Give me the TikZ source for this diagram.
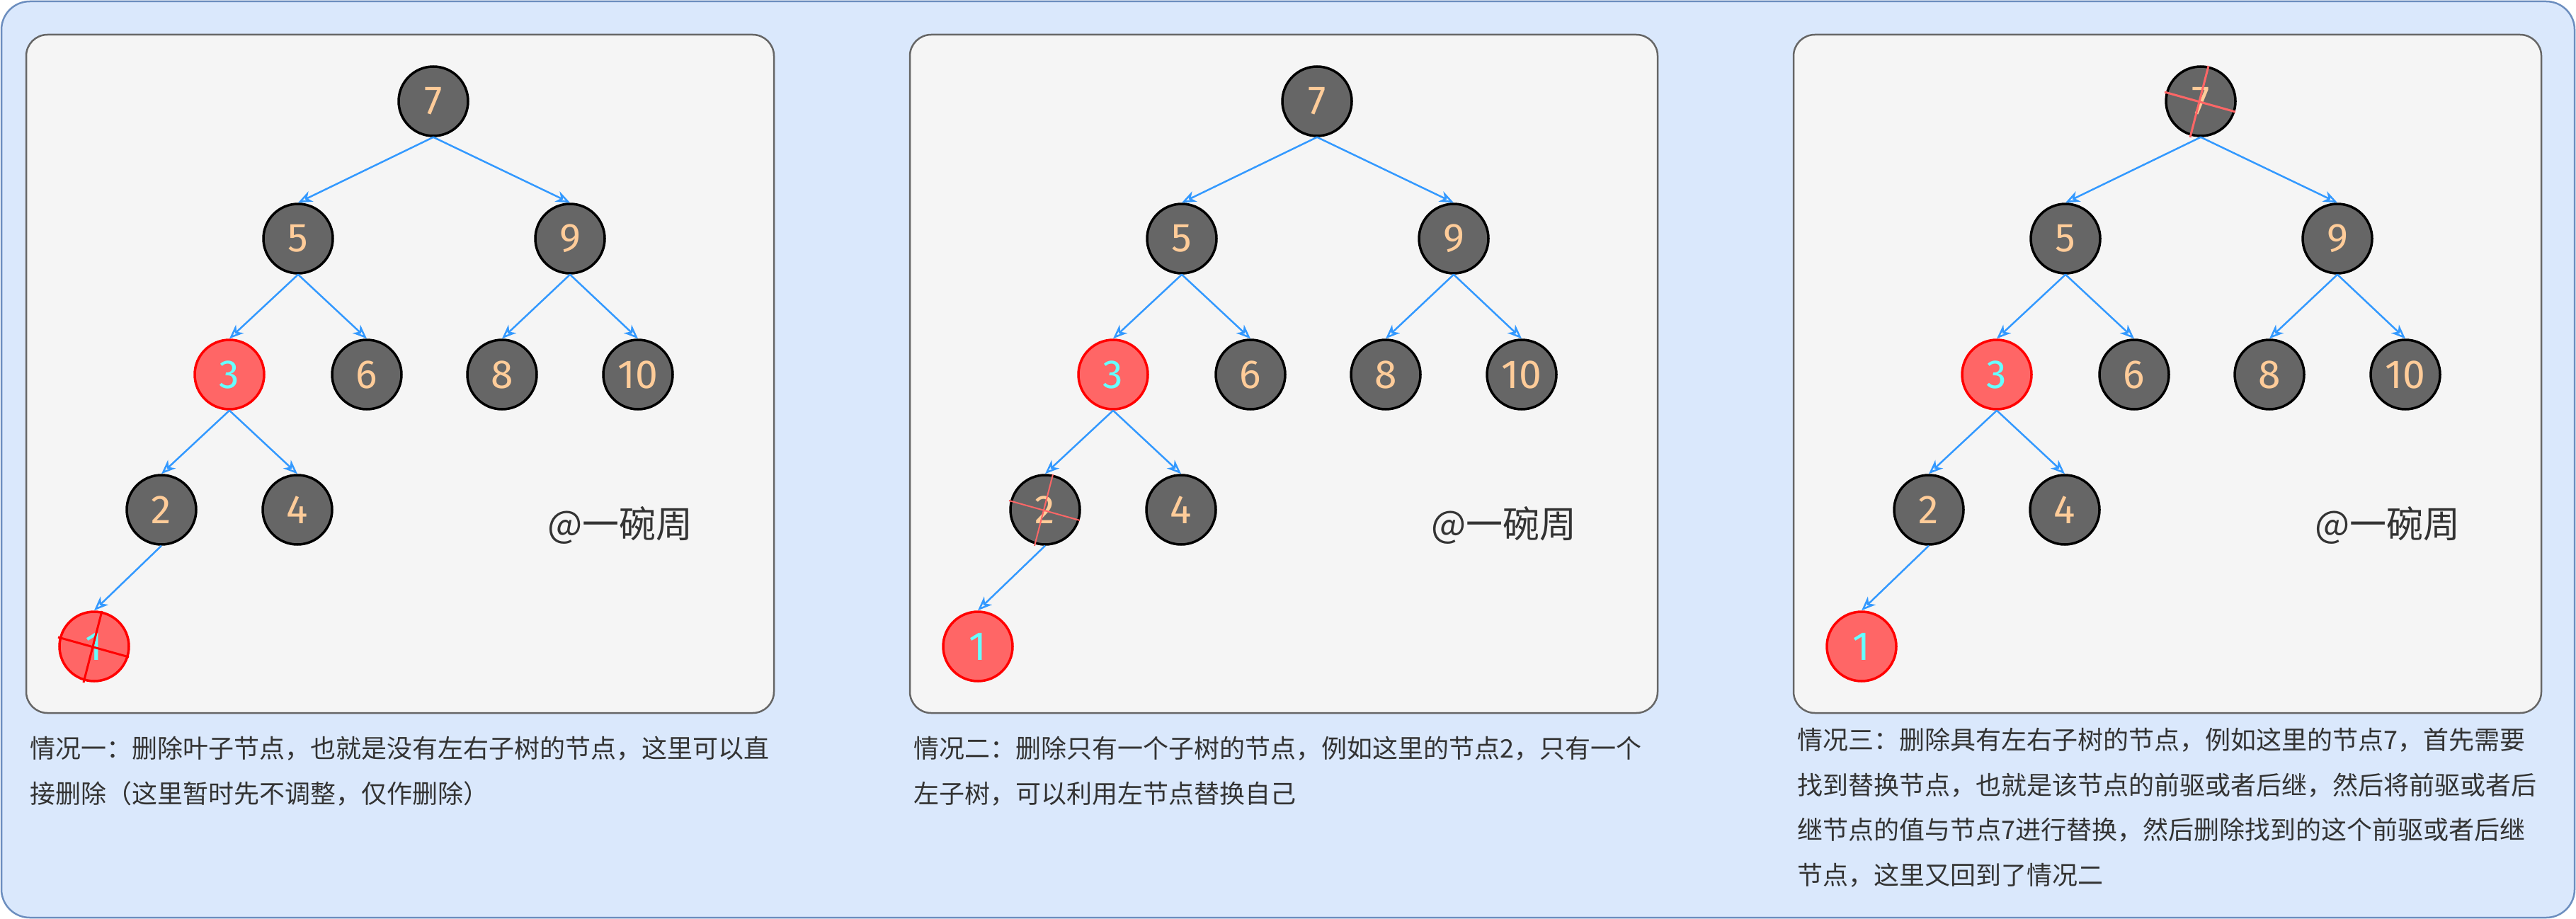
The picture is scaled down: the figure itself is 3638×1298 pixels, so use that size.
\documentclass[tikz,border=0pt]{standalone}
\usepackage{fontspec}
\setmainfont{Noto Sans CJK SC}
\newfontfamily\digitfont{Fira Sans}
\usetikzlibrary{arrows.meta,calc}
\definecolor{G6}{RGB}{102,102,102}
\definecolor{P1}{RGB}{255,204,153}
\definecolor{R6}{RGB}{255,102,102}
\definecolor{R0}{RGB}{255,0,0}
\definecolor{C6}{RGB}{102,255,255}
\definecolor{B3}{RGB}{51,153,255}
\definecolor{BG}{RGB}{218,232,252}
\definecolor{BD}{RGB}{108,142,191}
\definecolor{F5}{RGB}{245,245,245}
\definecolor{T3}{RGB}{51,51,51}
\tikzset{
  tnode/.style={circle, draw=black, fill=G6, text=P1, line width=3.5pt, minimum size=98pt,
    inner sep=0pt, font=\digitfont\fontsize{57}{57}\selectfont},
  rnode/.style={tnode, draw=R0, fill=R6, text=C6},
  link/.style={B3, line width=2.5pt, -{Stealth[open, length=20pt, width=16pt, inset=6pt]}},
  panel/.style={draw=G6, fill=F5, line width=2.5pt, rounded corners=30pt},
  wmark/.style={text=T3, inner sep=0pt, font=\fontsize{52}{52}\selectfont},
  capt/.style={anchor=north west, align=left, inner sep=0pt, text=T3, font=\fontsize{36}{63.5}\selectfont},
}
% red cross over a deleted node
\newcommand\crossnode[3]{%
  \draw[#2, line width=#3] ($(#1)+(11,-50)$) -- ($(#1)+(-15,51)$);
  \draw[#2, line width=#3] ($(#1)+(-51,-13)$) -- ($(#1)+(49,15)$);}

\begin{document}
\begin{tikzpicture}[x=1pt, y=-1pt]
  \useasboundingbox (0,0) rectangle (3638,1298);
  \draw[BD, fill=BG, line width=2.5pt, rounded corners=40pt] (2,2) rectangle (3636,1296);
  \foreach \p/\dx in {a/0,b/1248,c/2496}{
    \begin{scope}[xshift=\dx]
      \draw[panel] (37,49) rectangle (1093,1007);
      \node[tnode] (\p7) at (612,143) {7};
      \node[tnode] (\p5) at (421,337) {5};
      \node[tnode] (\p9) at (805,337) {9};
      \node[rnode] (\p3) at (324,529) {3};
      \node[tnode] (\p6) at (518,529) {6};
      \node[tnode] (\p8) at (709,529) {8};
      \node[tnode] (\p10) at (901,529) {10};
      \node[tnode] (\p2) at (228,720) {2};
      \node[tnode] (\p4) at (420,720) {4};
      \node[rnode] (\p1) at (133,913) {1};
      \foreach \u/\v in {7/5,7/9,5/3,5/6,9/8,9/10,3/2,3/4,2/1}
        \draw[link] (\p\u.south) -- (\p\v.north);
      \node[wmark] (wm\p) at (876,742) {@一碗周};
    \end{scope}
  }
  \crossnode{a1}{R0}{3pt}
  \crossnode{b2}{R6}{2pt}
  \crossnode{c7}{R6}{3pt}
  \node[capt] (capa) at (42,1040) {情况一：删除叶子节点，也就是没有左右子树的节点，这里可以直\\接删除（这里暂时先不调整，仅作删除）};
  \node[capt] (capb) at (1290,1040) {情况二：删除只有一个子树的节点，例如这里的节点2，只有一个\\左子树，可以利用左节点替换自己};
  \node[capt] (capc) at (2538,1028) {情况三：删除具有左右子树的节点，例如这里的节点7，首先需要\\找到替换节点，也就是该节点的前驱或者后继，然后将前驱或者后\\继节点的值与节点7进行替换，然后删除找到的这个前驱或者后继\\节点，这里又回到了情况二};
\end{tikzpicture}
\end{document}
